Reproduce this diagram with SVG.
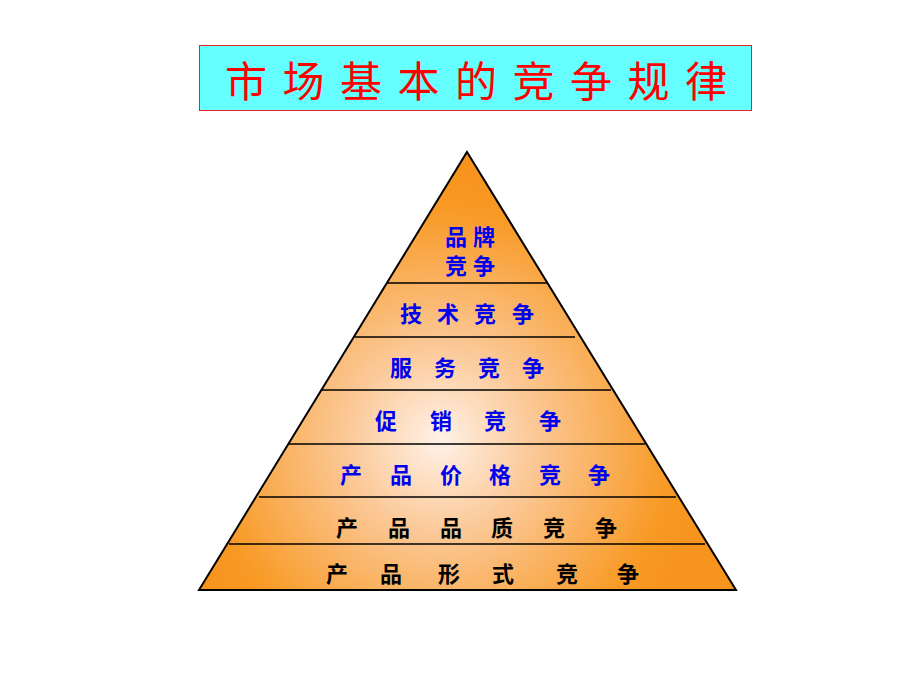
<svg xmlns="http://www.w3.org/2000/svg" width="920" height="690" viewBox="0 0 920 690">
<style>
.t{font-family:"Liberation Sans","Noto Sans CJK SC",sans-serif;font-size:22px;font-weight:bold}
.b{fill:#0000ee}.k{fill:#000}
.ln{stroke:#000;stroke-width:1.3}
</style>
<defs>
<radialGradient id="g" cx="440" cy="440" r="270" gradientUnits="userSpaceOnUse">
<stop offset="0" stop-color="#fff2e8"/><stop offset="0.35" stop-color="#fbc896"/><stop offset="0.85" stop-color="#f89a26"/><stop offset="1" stop-color="#f7941d"/>
</radialGradient>
</defs>
<rect width="920" height="690" fill="#fff"/>
<g id="title">
<rect x="199.5" y="45.5" width="552" height="65" fill="#66ffff" stroke="#ee2222"/>
<text x="225 282.5 340 397.5 455 512.5 570 627.5 685" y="97" style="font-family:'Liberation Sans','Noto Sans CJK SC',sans-serif;font-size:42px" fill="#ff0000">市场基本的竞争规律</text>
</g>
<g id="pyramid">
<polygon points="467,152 736,590 199,590" fill="url(#g)" stroke="#000" stroke-width="2"/>
</g>
<g id="connectors">
<line class="ln" x1="387" y1="283" x2="548" y2="283"/>
<line class="ln" x1="355" y1="337" x2="575" y2="337"/>
<line class="ln" x1="322" y1="390" x2="611" y2="390"/>
<line class="ln" x1="289" y1="444" x2="645" y2="444"/>
<line class="ln" x1="259" y1="497" x2="676" y2="497"/>
<line class="ln" x1="229" y1="544" x2="705" y2="544"/>
</g>
<g id="n1"><text class="t b" x="445 473" y="245">品牌</text><text class="t b" x="445 473" y="274">竞争</text></g>
<g id="n2"><text class="t b" x="400 437 474 512" y="322">技术竞争</text></g>
<g id="n3"><text class="t b" x="390 434 478 522" y="376">服务竞争</text></g>
<g id="n4"><text class="t b" x="375 430 484 539" y="429">促销竞争</text></g>
<g id="n5"><text class="t b" x="340 390 440 489 539 588" y="483">产品价格竞争</text></g>
<g id="n6"><text class="t k" x="336 388 440 491 543 595" y="536">产品品质竞争</text></g>
<g id="n7"><text class="t k" x="326 380 438 492 556 617" y="582">产品形式竞争</text></g>
</svg>
